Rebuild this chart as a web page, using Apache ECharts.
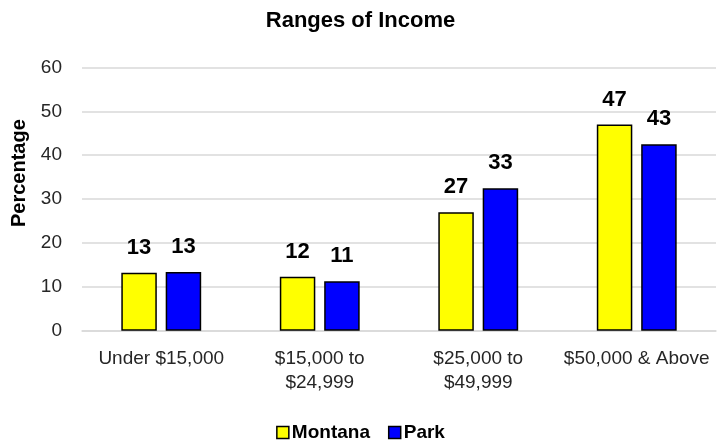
<!DOCTYPE html>
<html>
<head>
<meta charset="utf-8">
<script src="https://cdn.jsdelivr.net/npm/echarts@6/dist/echarts.min.js"></script>
<style>
  html, body { margin: 0; padding: 0; background: #fff; }
  #main { width: 721px; height: 445px; }
</style>
</head>
<body>
<div id="main"></div>
<script>
  var categories = ['Under $15,000', '$15,000 to\n$24,999', '$25,000 to\n$49,999', '$50,000 & Above'];
  var montana = [13.2, 12.3, 27.0, 47.0];
  var park = [13.4, 11.3, 32.5, 42.5];
  var yTicks = { min: 0, max: 60, interval: 10 };

  var font = '"Liberation Sans", Arial, sans-serif';
  var chart = echarts.init(document.getElementById('main'));

  function barSeries(name, data, color) {
    return {
      name: name,
      type: 'bar',
      data: data,
      barWidth: '22.4%',
      barGap: '25%',
      itemStyle: { color: color, borderColor: '#000', borderWidth: 1.5 },
      label: {
        show: true,
        position: 'top',
        distance: 14,
        fontFamily: font,
        fontWeight: 'bold',
        fontSize: 22,
        color: '#000',
        formatter: function (p) { return Math.round(p.value); }
      }
    };
  }

  chart.setOption({
    animation: false,
    textStyle: { fontFamily: font },
    title: {
      text: 'Ranges of Income',
      left: 'center',
      top: 5,
      textStyle: { fontFamily: font, fontSize: 22, fontWeight: 'bold', color: '#000' }
    },
    legend: {
      data: ['Montana', 'Park'],
      left: 'center',
      top: 418,
      itemWidth: 12,
      itemHeight: 12,
      itemGap: 18,
      icon: 'rect',
      textStyle: { fontFamily: font, fontSize: 19, fontWeight: 'bold', color: '#000', padding: [0, 0, 0, -2] },
      itemStyle: { borderColor: '#000', borderWidth: 1.5 }
    },
    grid: { left: 82, right: 5, top: 67.5, bottom: 114.3, outerBoundsMode: 'none' },
    xAxis: {
      type: 'category',
      data: categories,
      axisTick: { show: false },
      axisLine: { lineStyle: { color: '#d9d9d9', width: 1.5 } },
      axisLabel: { color: '#262626', fontSize: 19, margin: 16, lineHeight: 24, interval: 0 }
    },
    yAxis: {
      type: 'value',
      min: yTicks.min,
      max: yTicks.max,
      interval: yTicks.interval,
      name: 'Percentage',
      nameLocation: 'middle',
      nameGap: 51,
      nameTextStyle: { fontSize: 20, fontWeight: 'bold', color: '#000', padding: [0, 0, 0, 52] },
      axisLine: { show: false },
      axisTick: { show: false },
      axisLabel: { color: '#262626', fontSize: 19, margin: 20 },
      splitLine: { lineStyle: { color: '#d9d9d9', width: 1.5 } }
    },
    series: [
      barSeries('Montana', montana, '#ffff00'),
      barSeries('Park', park, '#0000ff')
    ]
  });
</script>
</body>
</html>
